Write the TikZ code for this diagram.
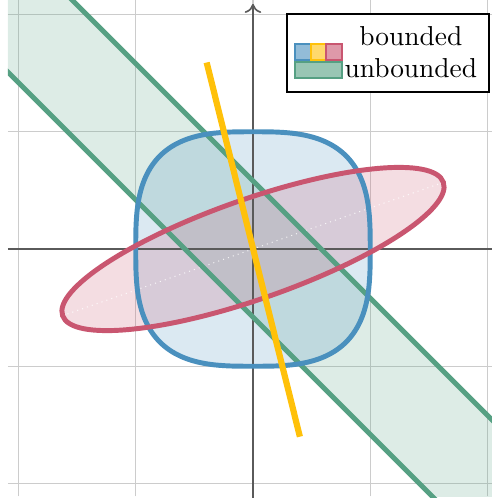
\documentclass[tikz,border=0pt]{standalone}
\usetikzlibrary{arrows.meta}
\definecolor{cblue}{RGB}{74,144,190}
\definecolor{cred}{RGB}{201,86,112}
\definecolor{cyellow}{RGB}{255,193,10}
\definecolor{cgreen}{RGB}{86,160,131}
\definecolor{cgrid}{RGB}{204,204,204}
\definecolor{caxis}{RGB}{90,90,90}
\tikzset{
  gridline/.style={draw=cgrid, line width=0.35pt},
  axisline/.style={draw=caxis, line width=0.4pt, -{To[length=2.2pt,width=4pt]}},
  setfill/.style={fill=#1, fill opacity=0.2},
  setline/.style={draw=#1, line width=1.2pt},
  swatch/.style={fill=#1, fill opacity=0.6, draw=#1, line width=0.55pt},
  legtext/.style={anchor=base, inner sep=0pt, font=\fontsize{10}{12}\selectfont, scale=0.665, transform shape}
}
\begin{document}
\begin{tikzpicture}[x=1cm,y=1cm]
\useasboundingbox (-2.157,-2.123) rectangle (2.0375,2.123);
% grid and band fill
\begin{scope}
  \clip (-2.09,-2.11) rectangle (2.3,2.3);
  \draw[gridline] (-2.09,-2.11) grid (2.3,2.3);
  \fill[setfill=cgreen] (-5,5.58) -- (5,-4.42) -- (5,-5.58) -- (-5,4.42) -- cycle;
\end{scope}
% bounded fills
\fill[setfill=cblue] plot[domain=1:359, samples=180]
  ({cos(\x)/abs(cos(\x))^(1/3)}, {sin(\x)/abs(sin(\x))^(1/3)}) -- cycle;
\fill[setfill=cred, rotate=19.3] (0,0) ellipse [x radius=1.72, y radius=0.425];
\draw[white, line width=0.25pt, densely dotted, opacity=0.8, rotate=19.3] (-1.72,0) -- (1.72,0);
% axes
\coordinate (xl) at (-2.09,0);
\coordinate (xr) at (2.25,0);
\coordinate (yb) at (0,-2.12);
\coordinate (yt) at (0,2.09);
\draw[axisline] (xl) -- (xr);
\draw[axisline] (yb) -- (yt);
% outlines
\begin{scope}
  \clip (-2.09,-2.2) rectangle (2.3,2.3);
  \draw[setline=cgreen] (-5,5.58) -- (5,-4.42);
  \draw[setline=cgreen] (-5,4.42) -- (5,-5.58);
\end{scope}
\draw[setline=cblue] plot[domain=1:359, samples=180]
  ({cos(\x)/abs(cos(\x))^(1/3)}, {sin(\x)/abs(sin(\x))^(1/3)}) -- cycle;
\draw[setline=cred, rotate=19.3] (0,0) ellipse [x radius=1.72, y radius=0.425];
\coordinate (ya) at (-0.395,1.59);
\coordinate (yz) at (0.40,-1.60);
\draw[draw=cyellow, line width=1.5pt] (ya) -- (yz);
% legend
\draw[black, line width=0.45pt, fill=white] (0.29,1.338) rectangle (2.012,2.003);
\path[swatch=cblue] (0.358,1.609) rectangle (0.492,1.745);
\path[swatch=cyellow] (0.492,1.609) rectangle (0.620,1.745);
\path[swatch=cred] (0.620,1.609) rectangle (0.756,1.745);
\path[swatch=cgreen] (0.358,1.455) rectangle (0.756,1.597);
\node[legtext] (lb) at (1.346,1.739) {bounded};
\node[legtext] (lu) at (1.346,1.464) {unbounded};
\end{tikzpicture}
\end{document}
